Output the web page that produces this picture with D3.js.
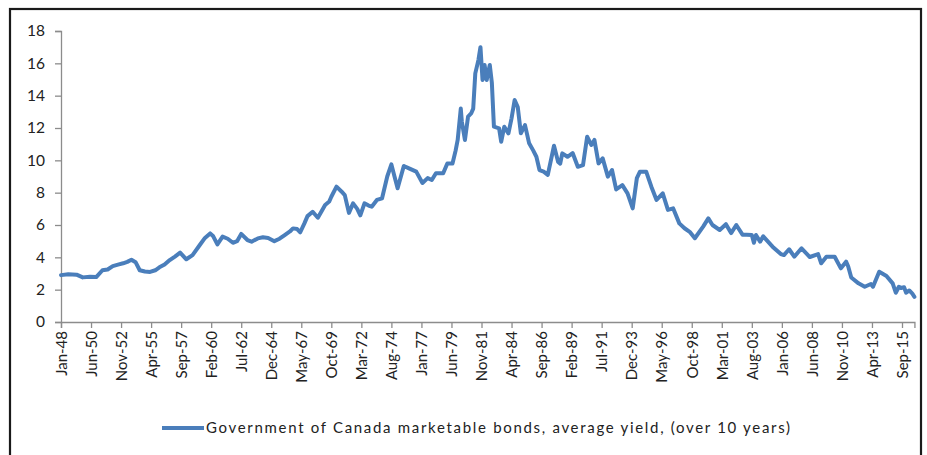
<!DOCTYPE html>
<html>
<head>
<meta charset="utf-8">
<script src="https://cdn.jsdelivr.net/npm/d3@7"></script>
<style>
  html, body { margin: 0; padding: 0; background: #ffffff; }
  svg { display: block; }
</style>
</head>
<body>
<svg id="chart" width="927" height="455"></svg>
<script>
// Government of Canada marketable bonds, average yield (over 10 years), %
const months = [
  "1948-01","1948-08","1949-04","1949-10","1950-05","1950-11","1951-05","1951-10","1952-03","1952-08","1953-01","1953-05","1953-09","1954-01","1954-05","1954-10","1955-03","1955-08","1955-12","1956-05","1956-10","1957-03","1957-08","1958-02","1958-08","1959-03","1959-08",
  "1960-01","1960-04","1960-08","1961-01","1961-06","1961-11","1962-03","1962-07","1963-01","1963-05","1963-11","1964-04","1964-09","1965-03","1965-08","1966-01","1966-06","1966-09","1967-01","1967-04","1967-08","1967-11","1968-04","1968-09","1969-01","1969-04","1969-08","1969-10",
  "1970-03","1970-08","1970-11","1971-03","1971-07","1971-11","1972-02","1972-06","1972-10","1973-01","1973-06","1973-11","1974-04","1974-08","1974-11","1975-02","1975-08","1976-01","1976-08","1977-02","1977-07","1977-11","1978-03","1978-10","1979-02","1979-07","1979-10","1979-12",
  "1980-03","1980-04","1980-07","1980-10","1981-01","1981-03","1981-05","1981-08","1981-10","1981-12","1982-02","1982-04","1982-07","1982-09","1982-11","1983-04","1983-06","1983-09","1984-01","1984-04","1984-07","1984-10","1985-01","1985-05","1985-09","1986-01","1986-04","1986-07","1986-11","1987-03","1987-09","1988-01","1988-03","1988-05","1988-10","1989-03","1989-08",
  "1990-01","1990-05","1990-09","1990-12","1991-04","1991-08","1992-01","1992-05","1992-09","1993-03","1993-08","1994-01","1994-05","1994-08","1995-02","1995-07","1995-12","1996-06","1996-11","1997-04","1997-10","1998-03","1998-08","1999-01","1999-09",
  "2000-02","2000-06","2001-01","2001-07","2001-12","2002-05","2002-11","2003-03","2003-08","2003-10","2003-12","2004-04","2004-07","2005-04","2005-12","2006-03","2006-08","2007-01","2007-08","2008-04","2008-12","2009-03","2009-08",
  "2010-04","2010-10","2011-03","2011-05","2011-08","2012-03","2012-09","2013-03","2013-05","2013-11","2014-06","2014-12","2015-03","2015-06","2015-08","2015-11","2016-01","2016-04","2016-07","2016-09"
];
const yields = [
  2.90,2.95,2.93,2.76,2.80,2.78,3.20,3.25,3.46,3.55,3.63,3.72,3.85,3.70,3.20,3.12,3.10,3.20,3.38,3.55,3.83,4.05,4.29,3.88,4.14,4.76,5.20,
  5.48,5.30,4.80,5.28,5.15,4.90,5.00,5.45,5.07,4.97,5.17,5.24,5.20,5.00,5.15,5.38,5.60,5.79,5.75,5.55,6.10,6.55,6.82,6.45,6.90,7.24,7.45,7.75,
  8.37,8.06,7.85,6.75,7.34,7.00,6.60,7.34,7.20,7.13,7.55,7.65,9.00,9.75,9.00,8.27,9.65,9.50,9.30,8.60,8.90,8.78,9.20,9.20,9.81,9.81,10.60,11.26,
  13.20,12.40,11.26,12.70,12.90,13.20,15.38,16.20,17.00,14.97,15.90,14.97,15.90,14.80,12.08,11.98,11.15,12.08,11.67,12.60,13.73,13.30,11.67,12.18,11.05,10.60,10.22,9.40,9.30,9.10,10.90,9.90,9.80,10.43,10.22,10.45,9.60,
  9.70,11.46,10.95,11.26,9.81,10.12,8.99,9.40,8.20,8.47,7.96,7.03,8.90,9.30,9.30,8.37,7.55,7.96,6.93,7.03,6.10,5.80,5.58,5.18,5.90,
  6.41,6.00,5.69,6.05,5.50,6.00,5.40,5.40,5.38,4.90,5.38,4.97,5.30,4.66,4.20,4.14,4.50,4.04,4.56,4.02,4.20,3.63,4.04,
  4.04,3.32,3.73,3.45,2.75,2.39,2.18,2.35,2.18,3.11,2.85,2.39,1.81,2.18,2.10,2.15,1.81,1.95,1.75,1.56
];
const tickLabels = ["Jan-48","Jun-50","Nov-52","Apr-55","Sep-57","Feb-60","Jul-62","Dec-64","May-67","Oct-69",
  "Mar-72","Aug-74","Jan-77","Jun-79","Nov-81","Apr-84","Sep-86","Feb-89","Jul-91","Dec-93",
  "May-96","Oct-98","Mar-01","Aug-03","Jan-06","Jun-08","Nov-10","Apr-13","Sep-15"];
const yTicks = [0, 2, 4, 6, 8, 10, 12, 14, 16, 18];
const seriesName = "Government of Canada marketable bonds, average yield, (over 10 years)";
const firstMonth = "1948-01", lastMonth = "2016-09";

const monNames = ["Jan","Feb","Mar","Apr","May","Jun","Jul","Aug","Sep","Oct","Nov","Dec"];
// months elapsed since January 1948
function idxFromYM(s) {
  const [y, m] = s.split("-").map(Number);
  return (y - 1948) * 12 + (m - 1);
}
function idxFromLabel(s) {
  const [mon, yy] = s.split("-");
  const yr = +yy < 30 ? 2000 + +yy : 1900 + +yy;
  return (yr - 1948) * 12 + monNames.indexOf(mon);
}

const data = months.map((d, i) => ({ t: idxFromYM(d), v: yields[i] }));

const svg = d3.select("#chart");
const font = "Lato, 'Open Sans', sans-serif";

// outer frame
svg.append("rect")
  .attr("x", 10).attr("y", 9).attr("width", 911).attr("height", 460)
  .attr("fill", "none").attr("stroke", "#1a1a1a").attr("stroke-width", 2.2);

const x = d3.scaleLinear()
  .domain([idxFromYM(firstMonth), idxFromYM(lastMonth)])
  .range([61, 61 + 824 * (841 / 812)]);
const y = d3.scaleLinear().domain([0, 18]).range([322, 31]);

const axisColor = "#8c8c8c";

// y axis
const yAxis = svg.append("g")
  .attr("transform", "translate(61,0)")
  .call(d3.axisLeft(y).tickValues(yTicks).tickSize(6).tickPadding(10).tickFormat(d3.format("d")));
yAxis.select(".domain").attr("stroke", axisColor).attr("stroke-width", 1.3);
yAxis.selectAll(".tick line").attr("stroke", axisColor).attr("stroke-width", 1.3);
yAxis.selectAll("text").attr("fill", "#222").style("font-family", font).style("font-size", "15.5px");

// x axis
const xAxis = svg.append("g")
  .attr("transform", "translate(0,322)")
  .call(d3.axisBottom(x)
    .tickValues(tickLabels.map(idxFromLabel))
    .tickSize(6)
    .tickFormat((d, i) => tickLabels[i]));
xAxis.select(".domain").attr("stroke", axisColor).attr("stroke-width", 1.3);
xAxis.selectAll(".tick line").attr("stroke", axisColor).attr("stroke-width", 1.3);
xAxis.selectAll("text")
  .attr("fill", "#222")
  .style("font-family", font).style("font-size", "15px")
  .attr("text-anchor", "end")
  .attr("transform", "rotate(-90)")
  .attr("x", -9).attr("y", 0).attr("dy", "0.35em");

// yield line
const line = d3.line().x(d => x(d.t)).y(d => y(d.v)).curve(d3.curveLinear);
svg.append("path")
  .datum(data)
  .attr("d", line)
  .attr("fill", "none")
  .attr("stroke", "#4a7ebb")
  .attr("stroke-width", 4)
  .attr("stroke-linejoin", "round")
  .attr("stroke-linecap", "round");

// legend
const lg = svg.append("g").attr("transform", "translate(162,428)");
lg.append("line").attr("x1", 0).attr("x2", 42).attr("y1", 0).attr("y2", 0)
  .attr("stroke", "#4a7ebb").attr("stroke-width", 4);
lg.append("text")
  .attr("x", 44).attr("y", 0).attr("dy", "0.35em")
  .attr("fill", "#222")
  .style("font-family", font).style("font-size", "15px")
  .attr("textLength", 584).attr("lengthAdjust", "spacing")
  .text(seriesName);
</script>
</body>
</html>
